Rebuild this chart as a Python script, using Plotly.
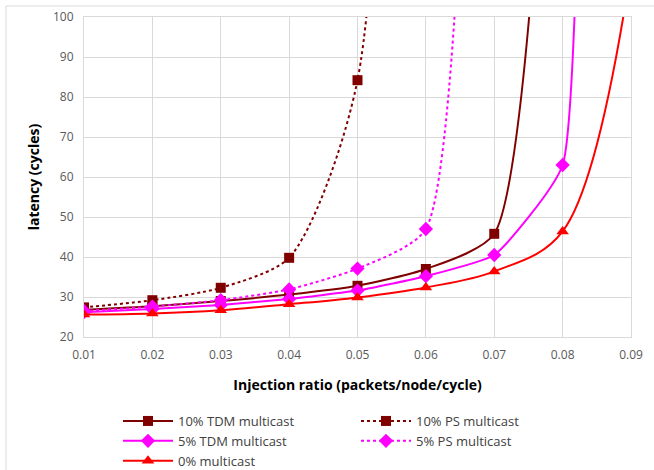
import plotly.graph_objects as go

x_tdm10 = [0.01, 0.02, 0.03, 0.04, 0.05, 0.06, 0.07, 0.08]
y_tdm10 = [26.8, 27.7, 29.0, 30.6, 32.8, 37.0, 45.8, 240]
x_ps10 = [0.01, 0.02, 0.03, 0.04, 0.05, 0.06]
y_ps10 = [27.4, 29.2, 32.3, 39.8, 84.2, 700]
x_tdm5 = [0.01, 0.02, 0.03, 0.04, 0.05, 0.06, 0.07, 0.08, 0.09]
y_tdm5 = [26.2, 27.0, 28.0, 29.5, 31.6, 35.2, 40.5, 63.0, 3000]
x_ps5 = [0.01, 0.02, 0.03, 0.04, 0.05, 0.06, 0.07]
y_ps5 = [26.5, 27.6, 29.2, 31.9, 37.1, 47.0, 700]
x_zero = [0.01, 0.02, 0.03, 0.04, 0.05, 0.06, 0.07, 0.08, 0.09]
y_zero = [25.6, 25.9, 26.7, 28.2, 29.9, 32.4, 36.4, 46.4, 112]

MAROON = "#800000"
MAGENTA = "#FF00FF"
RED = "#FF0000"

FONT = "Open Sans, Liberation Sans, sans-serif"

fig = go.Figure()
fig.add_trace(go.Scatter(x=x_tdm10, y=y_tdm10, name="10% TDM multicast", mode="lines+markers",
                         line=dict(color=MAROON, width=2, shape="spline", smoothing=0.6),
                         marker=dict(symbol="square", size=10, color=MAROON)))
fig.add_trace(go.Scatter(x=x_ps10, y=y_ps10, name="10% PS multicast", mode="lines+markers",
                         line=dict(color=MAROON, width=2, shape="spline", smoothing=0.7, dash="dot"),
                         marker=dict(symbol="square", size=10, color=MAROON)))
fig.add_trace(go.Scatter(x=x_tdm5, y=y_tdm5, name="5% TDM multicast", mode="lines+markers",
                         line=dict(color=MAGENTA, width=2, shape="spline", smoothing=0.4),
                         marker=dict(symbol="diamond", size=11, color=MAGENTA)))
fig.add_trace(go.Scatter(x=x_ps5, y=y_ps5, name="5% PS multicast", mode="lines+markers",
                         line=dict(color=MAGENTA, width=2, shape="spline", smoothing=0.55, dash="dot"),
                         marker=dict(symbol="diamond", size=11, color=MAGENTA)))
fig.add_trace(go.Scatter(x=x_zero, y=y_zero, name="0% multicast", mode="lines+markers",
                         line=dict(color=RED, width=2, shape="spline", smoothing=1),
                         marker=dict(symbol="triangle-up", size=11, color=RED)))

grid = "#d9d9d9"
tickfont = dict(family=FONT, size=12, color="#595959")
titlefont = dict(family=FONT, size=14, color="#000000")

fig.update_layout(
    width=654, height=470,
    margin=dict(l=84, r=23, t=17, b=133, autoexpand=False),
    paper_bgcolor="white", plot_bgcolor="white",
    font=dict(family=FONT),
    xaxis=dict(range=[0.01, 0.09], dtick=0.01, tick0=0.01, tickformat=".2f",
               showgrid=True, gridcolor=grid, gridwidth=1, showline=True, linecolor=grid,
               mirror=True, zeroline=False, tickfont=tickfont,
               ticks="outside", ticklen=7, tickcolor="rgba(0,0,0,0)",
               title=dict(text="<b>Injection ratio (packets/node/cycle)</b>", font=titlefont, standoff=17)),
    yaxis=dict(range=[20, 100], dtick=10, showgrid=True, gridcolor=grid, gridwidth=1,
               showline=True, linecolor=grid, mirror=True, zeroline=False, tickfont=tickfont,
               ticks="outside", ticklen=7, tickcolor="rgba(0,0,0,0)",
               title=dict(text="<b>latency (cycles)</b>", font=titlefont, standoff=10)),
    legend=dict(orientation="h", x=(118 - 84) / 547, y=-(406 - 337) / 320, xanchor="left", yanchor="top",
                entrywidth=173, entrywidthmode="pixels",
                font=dict(family=FONT, size=13, color="#404040"),
                tracegroupgap=0, itemwidth=50),
    showlegend=True,
)

fig.add_shape(type="rect", xref="paper", yref="paper",
              x0=(6 - 84) / 547, x1=1.2, y0=-0.6, y1=1 + (17 - 6) / 320,
              line=dict(color="#d9d9d9", width=1), layer="below")

fig.write_html("out.html")
